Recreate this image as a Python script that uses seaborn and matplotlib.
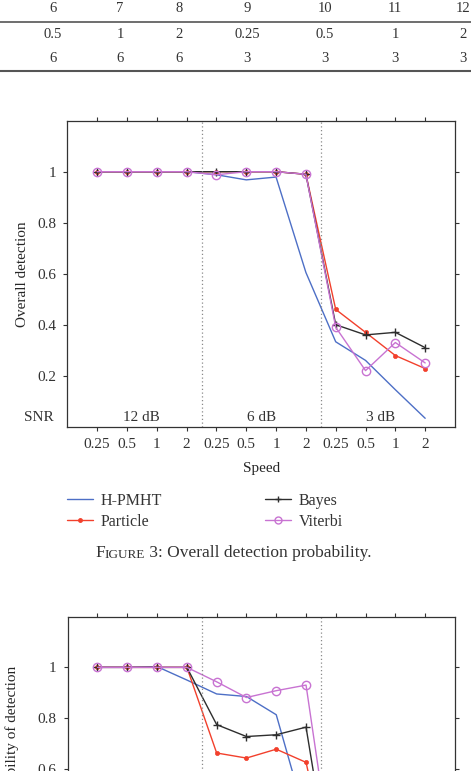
import matplotlib
matplotlib.use('Agg')
import matplotlib.pyplot as plt
import seaborn as sns
from matplotlib.lines import Line2D

# table fragment at the top of the page
tbl_head = ['6', '7', '8', '9', '10', '11', '12']
tbl_speed = ['0.5', '1', '2', '0.25', '0.5', '1', '2']
tbl_snr = ['6', '6', '6', '3', '3', '3', '3']

# x axis: 12 scenarios = 4 speeds x 3 SNR levels
case = list(range(1, 13))
speed_labels = ['0.25', '0.5', '1', '2'] * 3
snr_labels = ['12 dB', '6 dB', '3 dB']

# Figure 3: overall detection
f3_hpmht = [1, 1, 1, 1, 0.988, 0.968, 0.979, 0.605, 0.333, 0.26, 0.145, 0.033]
f3_particle = [1, 1, 1, 1, 1, 1, 1, 0.99, 0.46, 0.37, 0.279, 0.228]
f3_bayes = [1, 1, 1, 1, 1, 1, 1, 0.99, 0.40, 0.36, 0.37, 0.31]
f3_viterbi = [1, 1, 1, 1, 0.988, 1, 1, 0.99, 0.39, 0.22, 0.33, 0.25]

# Figure 4: probability of detection (page is cut below 0.6)
f4_hpmht = [1, 1, 1.003, 0.95, 0.895, 0.885, 0.813, 0.40, 0.25, 0.20, 0.10, 0.03]
f4_particle = [1, 1, 1, 1, 0.662, 0.642, 0.677, 0.625, 0.10, 0.08, 0.06, 0.05]
f4_bayes = [1, 1, 1, 1, 0.774, 0.727, 0.734, 0.764, 0.05, 0.05, 0.05, 0.04]
f4_viterbi = [1, 1, 1, 1, 0.943, 0.881, 0.908, 0.930, 0.13, 0.10, 0.10, 0.10]

c_hp = '#4d6fc6'
c_pa = '#f2402c'
c_ba = '#2e2e2e'
c_vi = '#c873d2'
txt = '#333333'

sns.set_style('ticks')
plt.rcParams['font.family'] = ['Liberation Serif', 'DejaVu Serif']
plt.rcParams['text.color'] = txt

W, H = 471, 771
fig = plt.figure(figsize=(W / 100, H / 100), dpi=100)


def fx(px):
    return px / W


def fy(px):
    return 1 - px / H


# table
tbl_cols = [53, 120, 179, 247, 325, 395, 463]
for row, ypx in ((tbl_head, 8), (tbl_speed, 35), (tbl_snr, 59)):
    for xpx, val in zip(tbl_cols, row):
        fig.text(fx(xpx), fy(ypx), val, ha='center', va='center', fontsize=10.5, color=txt)
fig.add_artist(Line2D([0, 1], [fy(21.7), fy(21.7)], transform=fig.transFigure, color='#555', lw=1.2))
fig.add_artist(Line2D([0, 1], [fy(70.7), fy(70.7)], transform=fig.transFigure, color='#555', lw=1.5))


def draw_panel(ax, hp, pa, ba, vi, ylabel, bottom_text=True):
    sns.lineplot(x=case, y=hp, color=c_hp, lw=1, ax=ax)
    sns.lineplot(x=case, y=pa, color=c_pa, lw=1, marker='o', markersize=3,
                 markeredgecolor=c_pa, markeredgewidth=0.5, ax=ax)
    sns.lineplot(x=case, y=ba, color=c_ba, lw=1, marker='+', markersize=6,
                 markeredgecolor=c_ba, markeredgewidth=1, ax=ax)
    sns.lineplot(x=case, y=vi, color=c_vi, lw=1, marker='o', markersize=6,
                 markerfacecolor='none', markeredgecolor=c_vi, markeredgewidth=1, ax=ax)

    ax.set_xlim(0, 13)
    ax.set_ylim(0, 1.2)
    ax.set_xticks(case)
    ax.set_yticks([0.2, 0.4, 0.6, 0.8, 1.0])
    ax.set_yticklabels(['0.2', '0.4', '0.6', '0.8', '1'])
    ax.tick_params(direction='out', length=3, width=0.8, top=True, right=True,
                   labelsize=11, pad=5, colors=txt)
    for s in ax.spines.values():
        s.set_visible(True)
        s.set_color(txt)
        s.set_linewidth(0.9)

    # SNR group separators
    for xv in (4.5, 8.5):
        ax.axvline(xv, color='#8a8a8a', lw=0.9, ls=(0, (1, 2)))

    ax.set_ylabel(ylabel, fontsize=11, labelpad=6)
    if bottom_text:
        ax.set_xticklabels(speed_labels)
        for xc, lab in zip([2.5, 6.5, 10.5], snr_labels):
            ax.text(xc, 0.035, lab, ha='center', va='center', fontsize=11)
        ax.text(-0.96, 0.035, 'SNR', ha='center', va='center', fontsize=11, clip_on=False)
        ax.set_xlabel('Speed', fontsize=11, labelpad=8)
    else:
        # lower half of this figure is below the page edge
        ax.set_xticklabels([])
        ax.set_xlabel('')


ax3 = fig.add_axes([fx(67.3), fy(426.7), fx(455 - 67.3), 306 / H])
draw_panel(ax3, f3_hpmht, f3_particle, f3_bayes, f3_viterbi, 'Overall detection')

ax4 = fig.add_axes([fx(67.7), fy(920.7), fx(455 - 67.7), 304 / H])
draw_panel(ax4, f4_hpmht, f4_particle, f4_bayes, f4_viterbi, 'Probability of detection',
           bottom_text=False)
ax4.yaxis.set_label_coords(-0.125, 0.6)

# legend for figure 3, two columns
h_hp = Line2D([], [], color=c_hp, lw=1)
h_pa = Line2D([], [], color=c_pa, lw=1, marker='o', markersize=2.5)
h_ba = Line2D([], [], color=c_ba, lw=1, marker='+', markersize=5)
h_vi = Line2D([], [], color=c_vi, lw=1, marker='o', markersize=5, markerfacecolor='none')
leg_kw = dict(loc='upper left', frameon=False, fontsize=11.5, borderpad=0, borderaxespad=0,
              handlelength=1.6, handletextpad=0.5, labelspacing=0.3, labelcolor=txt)
fig.legend([h_hp, h_pa], ['H-PMHT', 'Particle'], bbox_to_anchor=(fx(67), fy(493)), **leg_kw)
fig.legend([h_ba, h_vi], ['Bayes', 'Viterbi'], bbox_to_anchor=(fx(265), fy(493)), **leg_kw)

# caption, "Figure" in small caps
t1 = fig.text(fx(95), fy(561), 'F', fontsize=12.5, va='bottom', ha='left')
t2 = plt.annotate('IGURE', xy=(1, 0), xycoords=t1, fontsize=9.5, va='bottom', ha='left',
                  annotation_clip=False)
t3 = plt.annotate(' 3: Overall detection probability.', xy=(1, 0), xycoords=t2, fontsize=12.5,
                  va='bottom', ha='left', annotation_clip=False)

fig.savefig('out.png', dpi=100)
